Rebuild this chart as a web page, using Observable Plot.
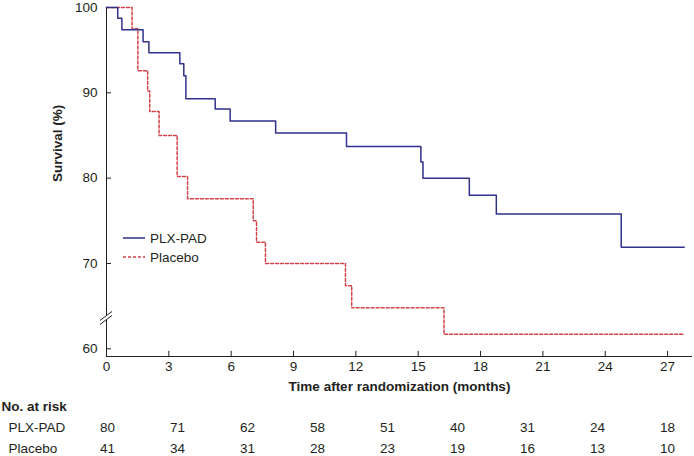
<!DOCTYPE html>
<html>
<head>
<meta charset="utf-8">
<script src="https://cdn.jsdelivr.net/npm/d3@7"></script>
<script src="https://cdn.jsdelivr.net/npm/@observablehq/plot@0.6"></script>
<style>
  body { margin: 0; background: #fff; }
  #chart { width: 694px; font-family: "Liberation Sans", Arial, sans-serif; }
  #chart svg { display: block; }
</style>
</head>
<body>
<div id="chart"></div>
<script>
// survival curves (months, % alive)
const plxTime = [0, 0.54, 0.74, 1.76, 2.04, 3.53, 3.72, 3.82, 5.23, 5.95, 8.14, 11.55, 15.13, 15.23, 17.46, 18.76, 24.77, 27.8];
const plxSurv = [100, 98.75, 97.4, 96.0, 94.7, 93.4, 92.0, 89.3, 88.1, 86.7, 85.3, 83.7, 81.9, 80.0, 78.0, 75.8, 71.9, 71.9];
const placeboTime = [0, 1.23, 1.51, 1.98, 2.08, 2.53, 3.4, 3.9, 7.06, 7.22, 7.65, 11.5, 11.8, 16.24, 27.8];
const placeboSurv = [100, 97.5, 92.6, 90.2, 87.8, 85.0, 80.2, 77.6, 75.0, 72.5, 70.0, 67.4, 64.8, 61.7, 61.7];

const groups = ["PLX-PAD", "Placebo"];
const xTicks = [0, 3, 6, 9, 12, 15, 18, 21, 24, 27];
const yTicks = [60, 70, 80, 90, 100];

// numbers at risk (9 evenly spaced columns under the axis)
const riskPlx = [80, 71, 62, 58, 51, 40, 31, 24, 18];
const riskPlacebo = [41, 34, 31, 28, 23, 19, 16, 13, 10];

const colors = ["#2f318a", "#d2434a"];
const ink = "#231f20";
const yMin = 59.1, xMax = 28.2;
const breakAt = 63.5; // where the // sits on the y axis

const plx = plxTime.map((t, i) => ({t, s: plxSurv[i]}));
const placebo = placeboTime.map((t, i) => ({t, s: placeboSurv[i]}));

const chart = Plot.plot({
  width: 694,
  height: 398,
  marginLeft: 106,
  marginRight: 2,
  marginTop: 7,
  marginBottom: 42,
  style: {fontFamily: '"Liberation Sans", Arial, sans-serif', fontSize: "13.5px", color: ink, background: "#fff"},
  x: {domain: [0, xMax]},
  y: {domain: [yMin, 100]},
  marks: [
    Plot.ruleX([0], {y1: yMin, y2: 100, stroke: ink}),
    Plot.ruleY([yMin], {x1: 0, x2: xMax, stroke: ink}),
    // inward ticks
    Plot.ruleX(xTicks, {y1: yMin, y2: yMin + 0.6, stroke: ink}),
    Plot.ruleY(yTicks, {x1: 0, x2: 0.24, stroke: ink}),
    Plot.axisX({ticks: xTicks, tickSize: 0, tickPadding: 5, label: null}),
    Plot.axisY({ticks: yTicks, tickSize: 0, tickPadding: 9, label: null}),
    Plot.line(placebo, {x: "t", y: "s", curve: "step-after", stroke: colors[1], strokeWidth: 1.5, strokeDasharray: "3,2"}),
    Plot.line(plx, {x: "t", y: "s", curve: "step-after", stroke: colors[0], strokeWidth: 1.5}),
    Plot.text(["Time after randomization (months)"], {frameAnchor: "bottom", dy: 34, fontWeight: "bold", fill: ink}),
    Plot.text(["Survival (%)"], {frameAnchor: "left", dx: -49, rotate: -90, fontWeight: "bold", fill: ink})
  ]
});

d3.select("#chart").append(() => chart);

// axis break and legend drawn on top of the plot
const svg = d3.select(chart);
const x0 = chart.scale("x").apply(0);
const yb = chart.scale("y").apply(breakAt);
const brk = svg.append("g").attr("stroke", ink).attr("stroke-width", 1);
brk.append("polygon")
  .attr("points", `${x0 - 6},${yb + 2} ${x0 + 6},${yb - 7} ${x0 + 6},${yb - 3} ${x0 - 6},${yb + 6}`)
  .attr("fill", "#fff").attr("stroke", "none");
brk.append("line").attr("x1", x0 - 6).attr("y1", yb + 2).attr("x2", x0 + 6).attr("y2", yb - 7);
brk.append("line").attr("x1", x0 - 6).attr("y1", yb + 6).attr("x2", x0 + 6).attr("y2", yb - 3);

const leg = svg.append("g")
  .attr("font-family", '"Liberation Sans", Arial, sans-serif')
  .attr("font-size", 13.5)
  .attr("text-anchor", "start");
groups.forEach((g, i) => {
  const y = 238 + i * 19;
  leg.append("line").attr("x1", 123).attr("x2", 145).attr("y1", y).attr("y2", y)
    .attr("stroke", colors[i]).attr("stroke-width", 1.5)
    .attr("stroke-dasharray", i ? "3,2" : null);
  leg.append("text").attr("x", 150).attr("y", y).attr("dy", "0.35em").attr("fill", ink).text(g);
});

// risk table
const riskRows = [
  ...riskPlx.map((n, i) => ({group: groups[0], col: i, n})),
  ...riskPlacebo.map((n, i) => ({group: groups[1], col: i, n}))
];

const table = Plot.plot({
  width: 694,
  height: 58,
  margin: 0,
  style: {fontFamily: '"Liberation Sans", Arial, sans-serif', fontSize: "13.5px", color: ink, background: "#fff"},
  x: {domain: [0, riskPlx.length - 1], range: [107, 667], axis: null},
  y: {type: "point", domain: groups, range: [29, 50], padding: 0, axis: null},
  marks: [
    Plot.text(["No. at risk"], {frameAnchor: "top-left", lineAnchor: "middle", dx: 1, dy: 8, fontWeight: "bold", fill: ink}),
    Plot.text(groups, {y: d => d, text: d => d, frameAnchor: "left", textAnchor: "start", dx: 8, fill: ink}),
    Plot.text(riskRows, {x: "col", y: "group", text: "n", fill: ink})
  ]
});

d3.select("#chart").append(() => table);
</script>
</body>
</html>
